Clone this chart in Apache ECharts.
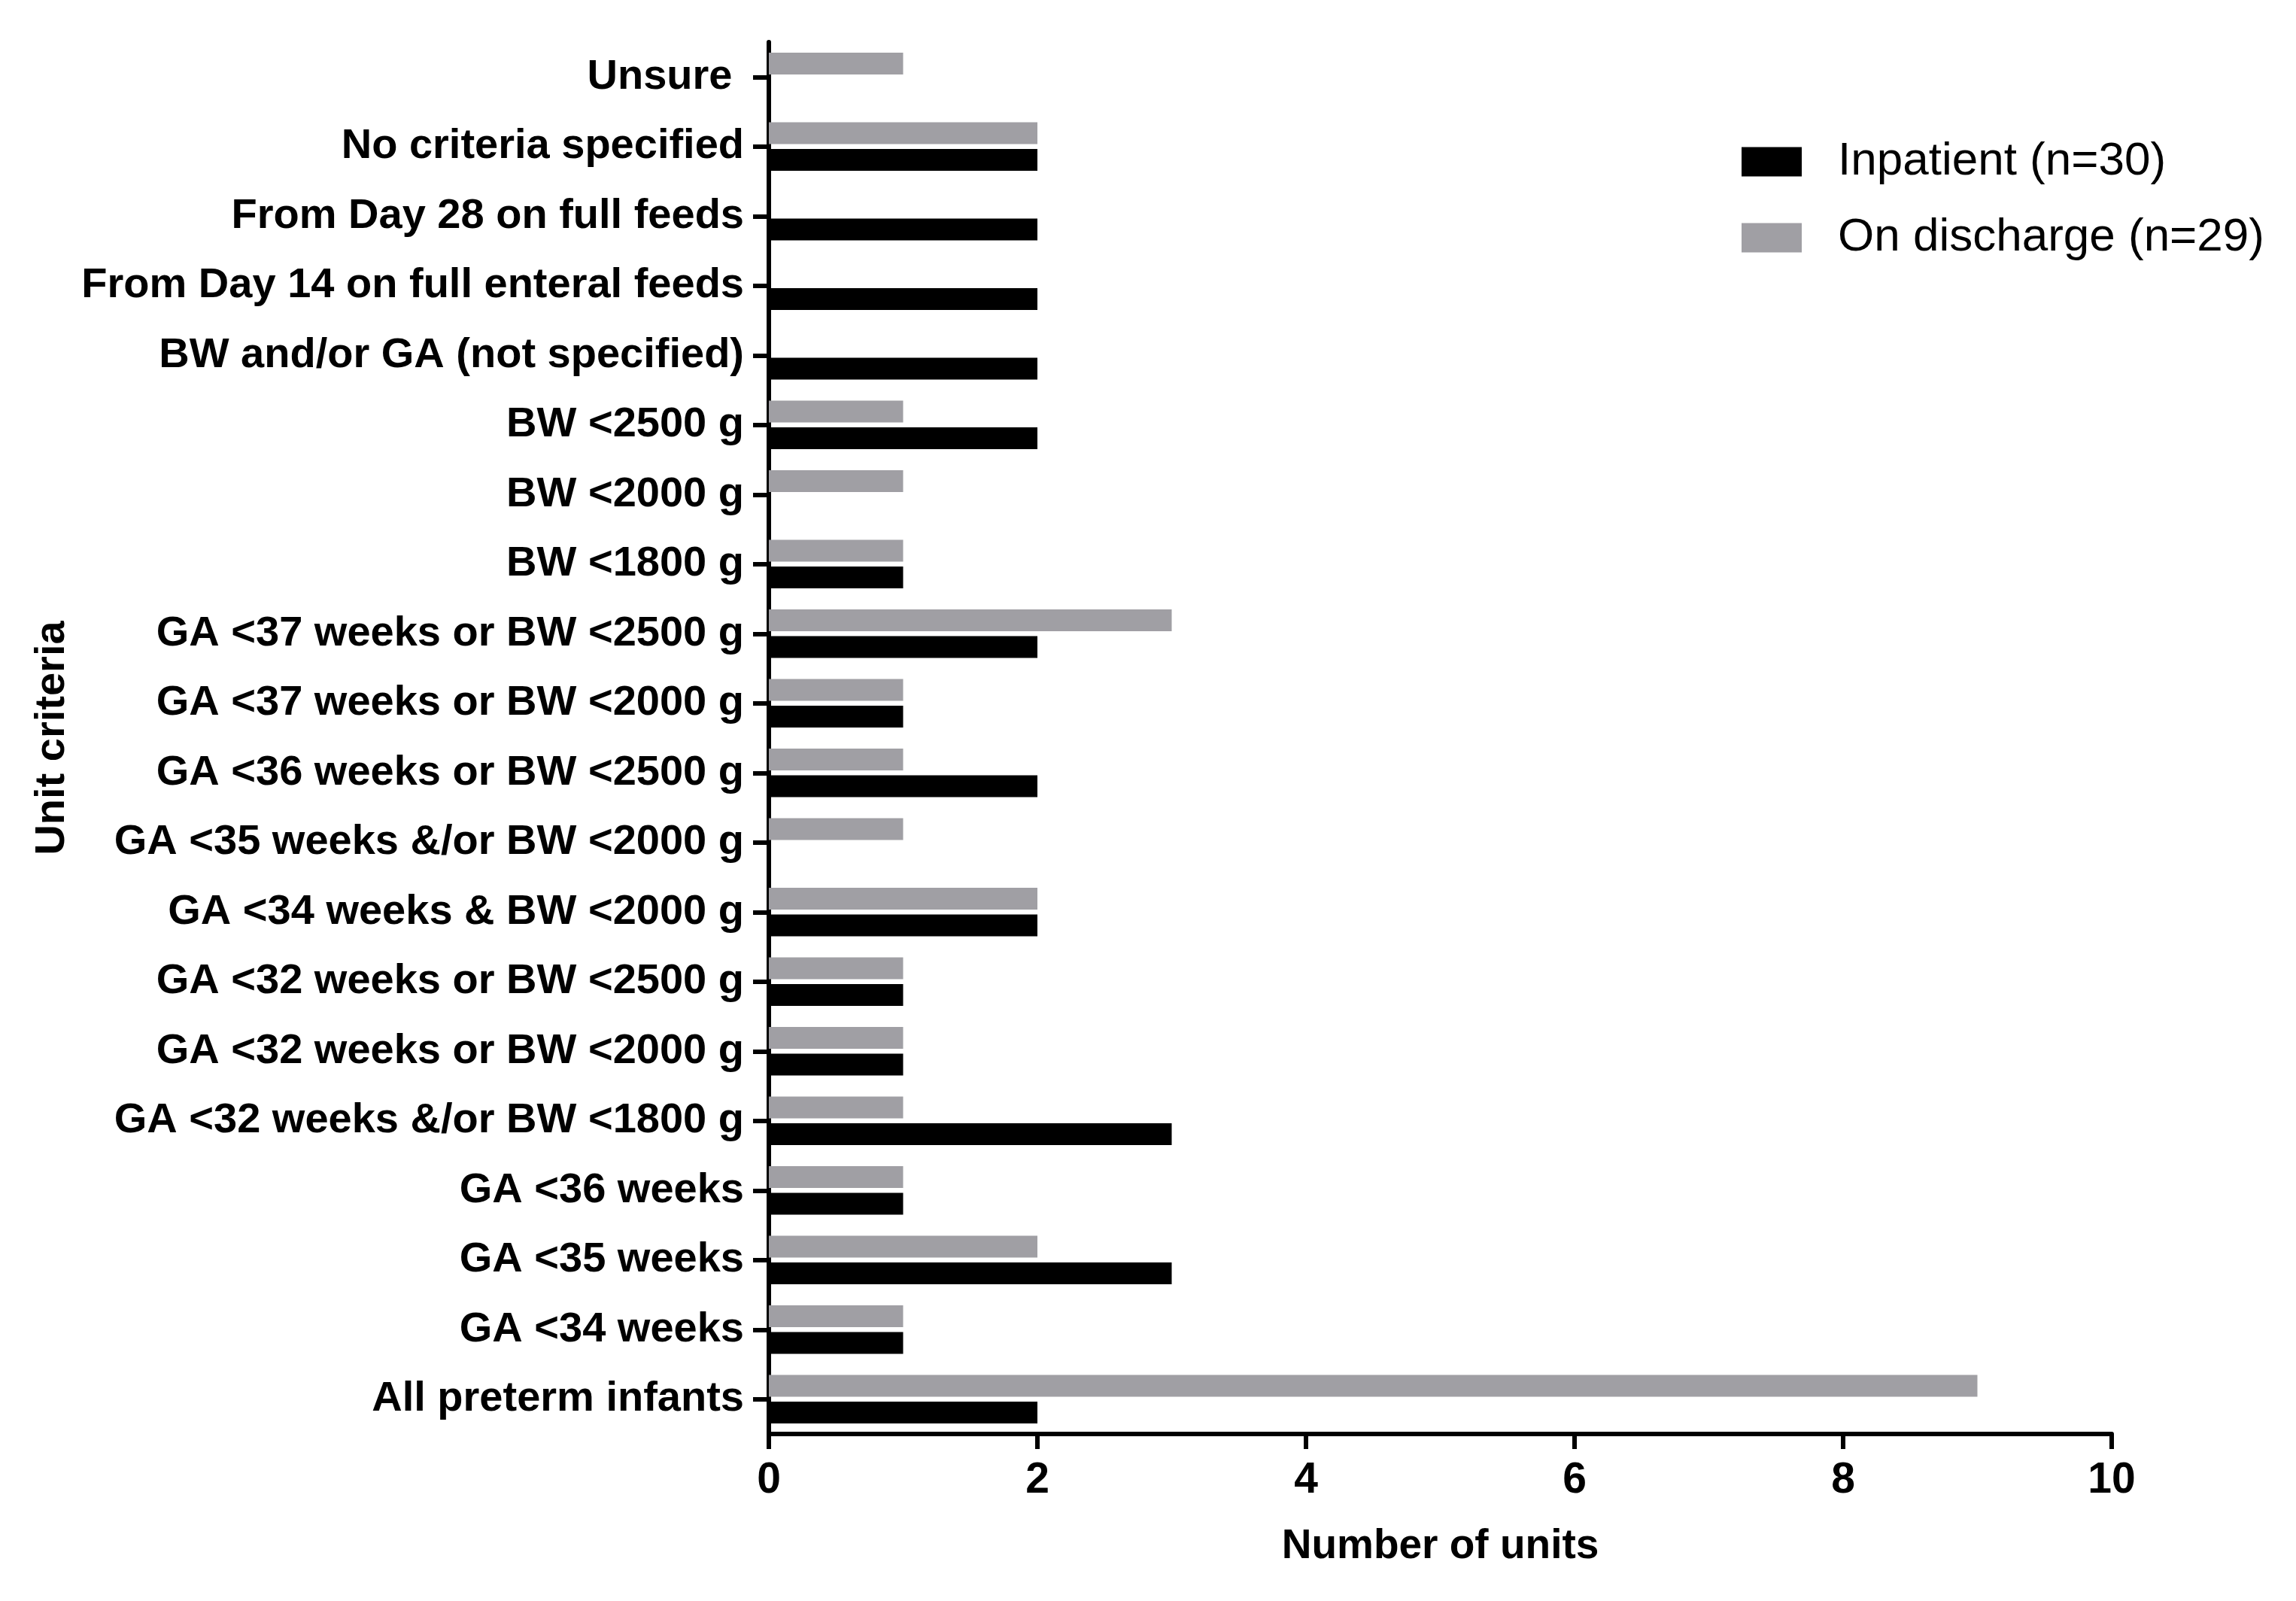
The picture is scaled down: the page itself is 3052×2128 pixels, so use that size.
<!DOCTYPE html>
<html>
<head>
<meta charset="utf-8">
<script src="https://cdn.jsdelivr.net/npm/echarts@6/dist/echarts.min.js"></script>
<style>
  html, body { margin: 0; padding: 0; background: #ffffff; }
  #chart { width: 3052px; height: 2128px; }
</style>
</head>
<body>
<div id="chart"></div>
<script>
// Categories listed bottom-to-top (ECharts category y-axis starts at the bottom)
const categories = [
  'All preterm infants',
  'GA <34 weeks',
  'GA <35 weeks',
  'GA <36 weeks',
  'GA <32 weeks &/or BW <1800 g',
  'GA <32 weeks or BW <2000 g',
  'GA <32 weeks or BW <2500 g',
  'GA <34 weeks & BW <2000 g',
  'GA <35 weeks &/or BW <2000 g',
  'GA <36 weeks or BW <2500 g',
  'GA <37 weeks or BW <2000 g',
  'GA <37 weeks or BW <2500 g',
  'BW <1800 g',
  'BW <2000 g',
  'BW <2500 g',
  'BW and/or GA (not specified)',
  'From Day 14 on full enteral feeds',
  'From Day 28 on full feeds',
  'No criteria specified',
  'Unsure '
];
const inpatient   = [2, 1, 3, 1, 3, 1, 1, 2, 0, 2, 1, 2, 1, 0, 2, 2, 2, 2, 2, 0];
const onDischarge = [9, 1, 2, 1, 1, 1, 1, 2, 1, 1, 1, 3, 1, 1, 1, 0, 0, 0, 2, 1];
const seriesNames = ['Inpatient (n=30)', 'On discharge (n=29)'];
const xTicks = { min: 0, max: 10, interval: 2 };

const FONT = "'Liberation Sans', sans-serif";
const chart = echarts.init(document.getElementById('chart'), null, { renderer: 'canvas' });

chart.setOption({
  backgroundColor: '#ffffff',
  animation: false,
  grid: { left: 1022, right: 245, top: 56, bottom: 222, containLabel: false },
  legend: {
    orient: 'vertical',
    left: 2315,
    top: 184,
    padding: 0,
    itemWidth: 80,
    itemHeight: 39,
    itemGap: 39,
    icon: 'rect',
    data: seriesNames,
    textStyle: {
      fontFamily: FONT,
      fontSize: 62,
      lineHeight: 62,
      color: '#000000',
      padding: [0, 0, 0, 43]
    }
  },
  xAxis: {
    type: 'value',
    min: xTicks.min,
    max: xTicks.max,
    interval: xTicks.interval,
    name: 'Number of units',
    nameLocation: 'middle',
    nameGap: 122,
    nameTextStyle: { fontFamily: FONT, fontSize: 55, fontWeight: 'bold', color: '#000' },
    axisLine: { show: true, lineStyle: { color: '#000', width: 6 } },
    axisTick: { show: true, length: 20, lineStyle: { color: '#000', width: 6 } },
    splitLine: { show: false },
    axisLabel: { fontFamily: FONT, fontSize: 57, fontWeight: 'bold', color: '#000', margin: 34 }
  },
  yAxis: {
    type: 'category',
    data: categories,
    name: 'Unit criteria',
    nameLocation: 'middle',
    nameGap: 918,
    nameRotate: 90,
    nameTextStyle: { fontFamily: FONT, fontSize: 56, fontWeight: 'bold', color: '#000' },
    axisLine: { show: true, lineStyle: { color: '#000', width: 6 } },
    axisTick: { show: true, alignWithLabel: true, length: 21, lineStyle: { color: '#000', width: 6 } },
    splitLine: { show: false },
    axisLabel: { fontFamily: FONT, fontSize: 56, fontWeight: 'bold', color: '#000', margin: 33, interval: 0 }
  },
  series: [
    {
      name: seriesNames[1],
      type: 'bar',
      data: onDischarge,
      barWidth: 29,
      barGap: '22%',
      itemStyle: { color: '#a09fa4' }
    },
    {
      name: seriesNames[0],
      type: 'bar',
      data: inpatient,
      barWidth: 29,
      barGap: '22%',
      itemStyle: { color: '#000000' }
    }
  ]
});
</script>
</body>
</html>
